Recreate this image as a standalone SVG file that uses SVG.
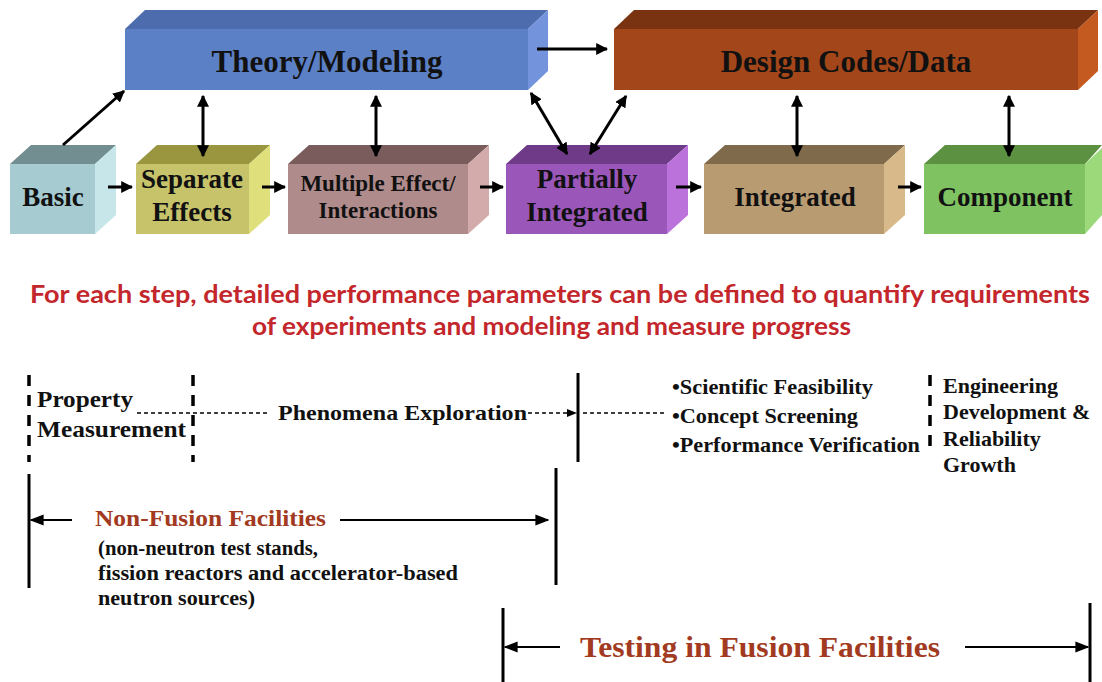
<svg xmlns="http://www.w3.org/2000/svg" width="1102" height="682" viewBox="0 0 1102 682">
<defs>
<marker id="ah" viewBox="0 0 10 10" refX="9" refY="5" markerWidth="4" markerHeight="4" orient="auto-start-reverse" markerUnits="strokeWidth">
<path d="M0,0 L10,5 L0,10 z" fill="#000"/>
</marker>
<marker id="ahs" viewBox="0 0 10 10" refX="9" refY="5" markerWidth="7" markerHeight="7" orient="auto-start-reverse" markerUnits="strokeWidth">
<path d="M0,1 L10,5 L0,9 z" fill="#000"/>
</marker>
</defs>
<style>
.lbl{font-family:"Liberation Serif","Times New Roman",serif;font-weight:bold;fill:#111;}
.big{font-size:31px;}
.box{font-size:27px;}
.red{font-family:Lato,"Open Sans",sans-serif;font-weight:bold;fill:#c3262b;font-size:24px;}
.brown{font-family:"Liberation Serif",serif;font-weight:bold;fill:#a23a22;}
.c{stroke:#000;stroke-width:3;fill:none;}
.thin{stroke:#000;stroke-width:2;fill:none;}
.dash{stroke:#000;stroke-width:1.5;fill:none;stroke-dasharray:4,3;}
.vd{stroke:#000;stroke-width:3.5;fill:none;stroke-dasharray:11,9;}
.vs{stroke:#000;stroke-width:3;fill:none;}
</style>
<rect width="1102" height="682" fill="#fff"/>

<g id="theory">
<polygon points="125,29 145,10 548,10 528,29" fill="#4d6cad"/>
<polygon points="528,29 548,10 548,71 528,90" fill="#7393dc"/>
<rect x="125" y="29" width="403" height="61" fill="#5c80c6"/>
<text class="lbl big" x="327" y="72" text-anchor="middle">Theory/Modeling</text>
</g>
<g id="design">
<polygon points="614,29 634,10 1098,10 1078,29" fill="#7a3310"/>
<polygon points="1078,29 1098,10 1098,71 1078,90" fill="#c45a20"/>
<rect x="614" y="29" width="464" height="61" fill="#a3461a"/>
<text class="lbl big" x="846" y="72" text-anchor="middle">Design Codes/Data</text>
</g>

<g id="basic">
<polygon points="10,164 31,145 116,145 95,164" fill="#728e90"/>
<polygon points="95,164 116,145 116,215 95,234" fill="#c6e6ea"/>
<rect x="10" y="164" width="85" height="70" fill="#a6cbd1"/>
<text class="lbl box" x="53" y="206" text-anchor="middle">Basic</text>
</g>
<g id="separate">
<polygon points="136,164 157,145 270,145 249,164" fill="#99963f"/>
<polygon points="249,164 270,145 270,215 249,234" fill="#dfdf7c"/>
<rect x="136" y="164" width="113" height="70" fill="#c6c36a"/>
<text class="lbl box" x="192" y="188" text-anchor="middle">Separate</text>
<text class="lbl box" x="192" y="221" text-anchor="middle">Effects</text>
</g>
<g id="multiple">
<polygon points="288,164 309,145 489,145 468,164" fill="#7a5c5c"/>
<polygon points="468,164 489,145 489,215 468,234" fill="#d3abab"/>
<rect x="288" y="164" width="180" height="70" fill="#b08b8b"/>
<text class="lbl" font-size="23" x="378" y="191" text-anchor="middle">Multiple Effect/</text>
<text class="lbl" font-size="23" x="378" y="218" text-anchor="middle">Interactions</text>
</g>
<g id="partially">
<polygon points="506,164 527,145 688,145 667,164" fill="#6f3b89"/>
<polygon points="667,164 688,145 688,215 667,234" fill="#bb72db"/>
<rect x="506" y="164" width="161" height="70" fill="#9b56ba"/>
<text class="lbl box" x="587" y="188" text-anchor="middle">Partially</text>
<text class="lbl box" x="587" y="221" text-anchor="middle">Integrated</text>
</g>
<g id="integrated">
<polygon points="704,164 725,145 905,145 884,164" fill="#7f6a4b"/>
<polygon points="884,164 905,145 905,215 884,234" fill="#d8b98a"/>
<rect x="704" y="164" width="180" height="70" fill="#b99b71"/>
<text class="lbl box" x="795" y="206" text-anchor="middle">Integrated</text>
</g>
<g id="component">
<polygon points="924,164 945,145 1102,145 1085,164" fill="#5c9142"/>
<polygon points="1085,164 1102,148 1102,215 1085,234" fill="#9bd97b"/>
<rect x="924" y="164" width="161" height="70" fill="#7fc261"/>
<text class="lbl box" x="1005" y="206" text-anchor="middle">Component</text>
</g>

<g id="connectors">
<line class="c" x1="537" y1="49" x2="607" y2="49" marker-end="url(#ah)"/>
<line class="c" x1="63" y1="145" x2="124" y2="91" marker-end="url(#ah)"/>
<line class="c" x1="203" y1="96" x2="203" y2="156" marker-start="url(#ah)" marker-end="url(#ah)"/>
<line class="c" x1="376" y1="96" x2="376" y2="156" marker-start="url(#ah)" marker-end="url(#ah)"/>
<line class="c" x1="531" y1="93" x2="567" y2="154" marker-start="url(#ah)" marker-end="url(#ah)"/>
<line class="c" x1="590" y1="154" x2="626" y2="96" marker-start="url(#ah)" marker-end="url(#ah)"/>
<line class="c" x1="797" y1="96" x2="797" y2="156" marker-start="url(#ah)" marker-end="url(#ah)"/>
<line class="c" x1="1009" y1="96" x2="1009" y2="156" marker-start="url(#ah)" marker-end="url(#ah)"/>
<line class="c" x1="108" y1="187" x2="132" y2="187" marker-end="url(#ah)"/>
<line class="c" x1="262" y1="187" x2="285" y2="187" marker-end="url(#ah)"/>
<line class="c" x1="480" y1="187" x2="503" y2="187" marker-end="url(#ah)"/>
<line class="c" x1="676" y1="187" x2="701" y2="187" marker-end="url(#ah)"/>
<line class="c" x1="898" y1="187" x2="921" y2="187" marker-end="url(#ah)"/>

<line class="vd" x1="29" y1="375" x2="29" y2="462"/>
<line class="vd" x1="193" y1="375" x2="193" y2="462"/>
<line class="vs" x1="578" y1="373" x2="578" y2="462"/>
<line class="vd" x1="930" y1="375" x2="930" y2="452"/>
<line class="dash" x1="137" y1="413" x2="270" y2="413"/>
<line class="dash" x1="528" y1="413" x2="576" y2="413" marker-end="url(#ahs)"/>
<line class="dash" x1="583" y1="413" x2="666" y2="413"/>

<line class="vs" x1="29" y1="474" x2="29" y2="588"/>
<line class="vs" x1="556" y1="468" x2="556" y2="585"/>
<line class="thin" x1="72" y1="520" x2="31" y2="520" marker-end="url(#ahs)" stroke-width="1.8"/>
<line class="thin" x1="340" y1="520" x2="548" y2="520" marker-end="url(#ahs)" stroke-width="1.8"/>

<line class="vs" x1="503" y1="608" x2="503" y2="682"/>
<line class="vs" x1="1090" y1="603" x2="1090" y2="682"/>
<line class="thin" x1="560" y1="647" x2="505" y2="647" marker-end="url(#ahs)" stroke-width="1.8"/>
<line class="thin" x1="965" y1="647" x2="1088" y2="647" marker-end="url(#ahs)" stroke-width="1.8"/>
</g>

<text class="red" x="30" y="303" textLength="1060" lengthAdjust="spacingAndGlyphs">For each step, detailed performance parameters can be defined to quantify requirements</text>
<text class="red" x="252" y="335" textLength="599" lengthAdjust="spacingAndGlyphs">of experiments and modeling and measure progress</text>

<text class="lbl" font-size="24" x="37" y="407" textLength="96" lengthAdjust="spacingAndGlyphs">Property</text>
<text class="lbl" font-size="24" x="37" y="437" textLength="149" lengthAdjust="spacingAndGlyphs">Measurement</text>
<text class="lbl" font-size="22" x="278" y="420" textLength="249" lengthAdjust="spacingAndGlyphs">Phenomena Exploration</text>
<text class="lbl" font-size="21" x="672" y="394" textLength="201" lengthAdjust="spacingAndGlyphs">•Scientific Feasibility</text>
<text class="lbl" font-size="21" x="672" y="423" textLength="186" lengthAdjust="spacingAndGlyphs">•Concept Screening</text>
<text class="lbl" font-size="21" x="672" y="452" textLength="248" lengthAdjust="spacingAndGlyphs">•Performance Verification</text>
<text class="lbl" font-size="22" x="943" y="393">Engineering</text>
<text class="lbl" font-size="22" x="943" y="419">Development &amp;</text>
<text class="lbl" font-size="22" x="943" y="446">Reliability</text>
<text class="lbl" font-size="22" x="943" y="472">Growth</text>

<text class="brown" font-size="23" x="95" y="526" textLength="231" lengthAdjust="spacingAndGlyphs">Non-Fusion Facilities</text>
<text class="lbl" font-size="20" x="98" y="555" textLength="220" lengthAdjust="spacingAndGlyphs">(non-neutron test stands,</text>
<text class="lbl" font-size="20" x="98" y="580" textLength="360" lengthAdjust="spacingAndGlyphs">fission reactors and accelerator-based</text>
<text class="lbl" font-size="20" x="98" y="605" textLength="157" lengthAdjust="spacingAndGlyphs">neutron sources)</text>
<text class="brown" font-size="30" x="580" y="657" textLength="360" lengthAdjust="spacingAndGlyphs">Testing in Fusion Facilities</text>
</svg>
